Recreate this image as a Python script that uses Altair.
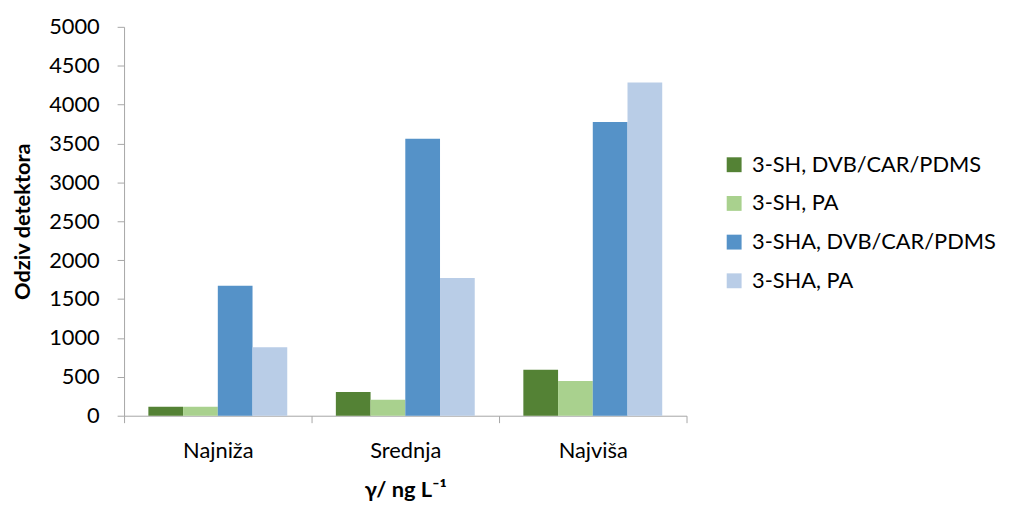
import altair as alt
import pandas as pd

categories = ["Najniža", "Srednja", "Najviša"]
series = ["3-SH, DVB/CAR/PDMS", "3-SH, PA", "3-SHA, DVB/CAR/PDMS", "3-SHA, PA"]
sh_dvb = [115, 305, 590]
sh_pa = [115, 205, 445]
sha_dvb = [1670, 3560, 3775]
sha_pa = [880, 1770, 4285]
colors = ["#548235", "#A9D18E", "#5592C8", "#B9CDE7"]

rows = []
for s, vals in zip(series, [sh_dvb, sh_pa, sha_dvb, sha_pa]):
    for c, v in zip(categories, vals):
        rows.append({"kategorija": c, "serija": s, "odziv": v})
df = pd.DataFrame(rows)

FONT = "Lato"

chart = alt.Chart(df).mark_bar().encode(
    x=alt.X("kategorija:N", sort=categories,
            scale=alt.Scale(paddingInner=0, paddingOuter=0),
            axis=alt.Axis(title="γ/ ng L⁻¹", labelAngle=0, tickBand="extent",
                          labelPadding=18, titlePadding=18)),
    xOffset=alt.XOffset("serija:N", sort=series,
                        scale=alt.Scale(paddingOuter=0.7, paddingInner=0)),
    y=alt.Y("odziv:Q", scale=alt.Scale(domain=[0, 5000]),
            axis=alt.Axis(title="Odziv detektora", values=list(range(0, 5001, 500)),
                          format="d", labelPadding=18, titlePadding=14, grid=False)),
    color=alt.Color("serija:N", sort=series,
                    scale=alt.Scale(domain=series, range=colors),
                    legend=alt.Legend(title=None, orient="none", legendX=604, legendY=128,
                                      symbolType="square", symbolSize=225,
                                      symbolStrokeWidth=0, rowPadding=17,
                                      labelOffset=7, labelFontSize=22, labelLimit=0,
                                      labelFont=FONT, labelColor="#000000")),
).properties(width=567, height=392, background="white",
             padding={"left": 3, "top": 6, "right": 5, "bottom": 2})

chart = chart.configure_view(stroke=None).configure_axis(
    domainColor="#A6A6A6", tickColor="#A6A6A6", tickSize=7,
    labelFont=FONT, labelFontSize=22, labelColor="#000000",
    titleFont=FONT, titleFontSize=22, titleFontWeight="bold", titleColor="#000000",
)

chart.save("out.html", embed_options={"renderer": "svg", "actions": False})
